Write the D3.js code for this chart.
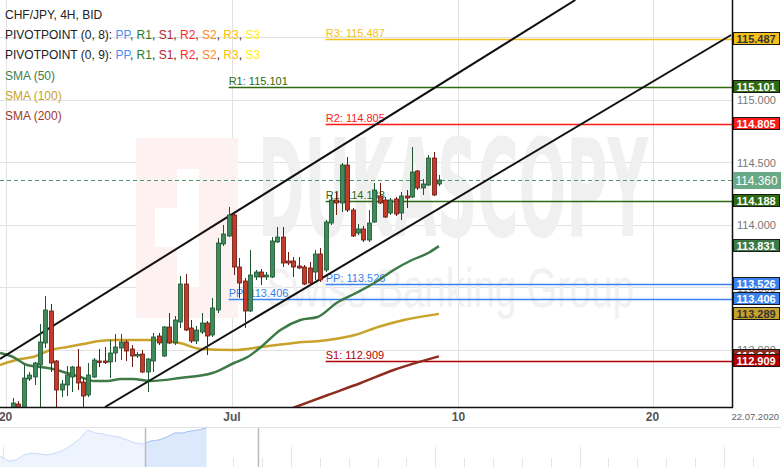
<!DOCTYPE html>
<html>
<head>
<meta charset="utf-8">
<script src="https://cdn.jsdelivr.net/npm/d3@7"></script>
<style>
body { margin: 0; background: #fff; }
svg { display: block; font-family: "Liberation Sans", Arial, sans-serif; }
</style>
</head>
<body>
<div id="chart"></div>
<script>
let width = 781;
let height = 467;
let plot = ({left: 0, top: 0, right: 732, bottom: 407});

// 4H candles (index 0 .. 79)
let opens = [112.52, 112.568, 112.504, 112.768, 112.784, 112.88, 113.056, 113.312, 112.912, 112.68,
  112.72, 112.784, 112.864, 112.744, 112.64, 112.784, 112.912, 112.912, 112.904, 112.976,
  113.016, 113.064, 113.008, 112.952, 112.968, 112.824, 112.912, 113.112, 112.952, 113.184,
  113.056, 113.224, 113.528, 113.176, 113.072, 113.144, 113.216, 113.12, 113.32, 113.848,
  113.912, 114.08, 113.664, 113.552, 113.312, 113.584, 113.624, 113.584, 113.584, 113.864,
  113.904, 113.712, 113.712, 113.672, 113.664, 113.656, 113.624, 113.768, 113.64, 114.016,
  114.2, 114.176, 114.48, 114.12, 113.936, 113.968, 113.88, 114.024, 114.232, 114.2,
  114.096, 114.208, 114.096, 114.232, 114.224, 114.432, 114.296, 114.32, 114.536, 114.328];
let highs = [112.616, 112.592, 112.88, 112.824, 112.904, 113.208, 113.432, 113.368, 112.92, 112.76,
  112.872, 112.872, 113.008, 112.776, 112.896, 112.936, 113.008, 113.024, 113.08, 113.128,
  113.128, 113.08, 113.04, 112.984, 113.0, 112.936, 113.136, 113.136, 113.192, 113.296,
  113.272, 113.592, 113.608, 113.24, 113.192, 113.296, 113.232, 113.416, 113.896, 114.0,
  114.144, 114.088, 113.736, 113.576, 113.8, 113.64, 113.648, 113.624, 113.904, 113.984,
  113.984, 113.784, 113.744, 113.744, 113.68, 113.704, 113.8, 113.816, 114.04, 114.24,
  114.264, 114.496, 114.544, 114.136, 114.008, 113.992, 114.12, 114.336, 114.336, 114.224,
  114.216, 114.224, 114.264, 114.28, 114.624, 114.44, 114.368, 114.56, 114.584, 114.4];
let lows = [112.504, 112.488, 112.48, 112.752, 112.72, 112.52, 113.016, 112.824, 112.504, 112.624,
  112.632, 112.664, 112.68, 112.52, 112.624, 112.776, 112.864, 112.888, 112.776, 112.904,
  112.92, 112.912, 112.864, 112.936, 112.816, 112.664, 112.824, 113.04, 112.944, 113.048,
  113.04, 113.176, 113.152, 113.056, 113.048, 113.128, 112.96, 113.104, 113.296, 113.832,
  113.904, 113.6, 113.416, 113.176, 113.304, 113.56, 113.52, 113.56, 113.576, 113.856,
  113.664, 113.68, 113.584, 113.648, 113.52, 113.52, 113.56, 113.544, 113.624, 114.0,
  114.08, 114.104, 114.104, 113.904, 113.92, 113.864, 113.864, 114.016, 114.168, 114.056,
  114.08, 114.072, 114.04, 114.136, 114.216, 114.28, 114.24, 114.312, 114.232, 114.312];
let closes = [112.576, 112.52, 112.776, 112.8, 112.896, 113.064, 113.32, 112.896, 112.68, 112.728,
  112.8, 112.864, 112.736, 112.632, 112.8, 112.92, 112.9, 112.9, 112.976, 113.024,
  113.064, 112.992, 112.952, 112.964, 112.824, 112.928, 113.104, 113.056, 113.184, 113.056,
  113.24, 113.528, 113.16, 113.072, 113.16, 113.216, 113.112, 113.336, 113.856, 113.928,
  114.08, 113.664, 113.536, 113.312, 113.6, 113.624, 113.584, 113.6, 113.872, 113.904,
  113.696, 113.696, 113.664, 113.656, 113.528, 113.536, 113.768, 113.56, 114.024, 114.2,
  114.176, 114.48, 114.12, 113.912, 113.968, 113.88, 114.016, 114.28, 114.176, 114.064,
  114.2, 114.088, 114.232, 114.216, 114.424, 114.296, 114.328, 114.536, 114.24, 114.36];

// time: trading days counted from 1 Jul, 6 candles per day
let firstCandleDay = -6.77;
let candlesPerDay = 6;
let dayDomain = [-7.1716, 15.456];
let dayTicks = [-7, 0, 7, 13];
let dayTickLabels = ["20", "Jul", "10", "20"];
let lastDateLabel = "22.07.2020";

let priceDomain = [112.544, 115.8];
let priceTicks = [113, 113.5, 114, 114.5, 115, 115.5];

// moving averages (candle index, value)
let sma50Idx = [-2.4, 0, 2.6, 5, 7.4, 10, 12.5, 15, 17.5, 20, 22.3, 25.5, 31, 37, 41, 43.5, 46, 49.6, 53.3, 56.5, 60, 64, 67, 70.6, 74, 77, 79];
let sma50Val = [112.976, 112.944, 112.88, 112.864, 112.848, 112.816, 112.784, 112.752, 112.752, 112.768, 112.768, 112.752, 112.776, 112.816, 112.896, 112.944, 113.024, 113.16, 113.24, 113.264, 113.376, 113.464, 113.536, 113.64, 113.72, 113.776, 113.831];
let sma100Idx = [-2.4, 1.3, 3.7, 7, 10, 13, 16, 19.3, 25.5, 31, 34.8, 41, 46, 52, 58.4, 63.4, 67.7, 72.5, 79];
let sma100Val = [112.88, 112.928, 112.944, 113.0, 113.024, 113.048, 113.072, 113.08, 113.08, 113.056, 113.008, 113.0, 113.024, 113.056, 113.08, 113.12, 113.184, 113.24, 113.289];
let sma200Idx = [44, 52.4, 58.4, 64.5, 70.6, 79];
let sma200Val = [112.41, 112.544, 112.64, 112.736, 112.84, 112.949];

// pivot points
let pivotNames = ["R1", "PP", "R3", "R2", "R1", "PP", "S1"];
let pivotValues = [115.101, 113.406, 115.487, 114.805, 114.188, 113.526, 112.909];
let pivotStartIdx = [40, 40, 58, 58, 58, 58, 58];
let pivotColors = ["#2d6a10", "#3a82f0", "#f5c01a", "#ff1a1a", "#2d6a10", "#3a82f0", "#b00000"];
let pivotTextColors = ["#fff", "#fff", "#333", "#fff", "#fff", "#fff", "#fff"];

// channel (candle index, price)
let channelUpper = [[-2.41, 112.928], [104.3, 115.8]];
let channelLower = [[17.07, 112.544], [133.2, 115.52]];

// navigator
let navValues = [11, 6, 7, 12, 14, 13, 12, 14, 17, 22, 28, 37, 34, 33, 31, 30, 27, 24, 23, 26, 27, 30, 34, 34, 36, 37, 39];
let navStart = -0.08, navStep = 0.275;
let navWindow = [4.94, 8.87];
let navTickCount = 28;

let smaColors = {sma50: "#3d7a46", sma100: "#c9a22a", sma200: "#8e2c1f"};

let svg = d3.select("#chart").append("svg")
    .attr("width", width)
    .attr("height", height);

let xScale = d3.scaleLinear().domain(dayDomain).range([plot.left, plot.right]);
let yScale = d3.scaleLinear().domain(priceDomain).range([plot.bottom, plot.top]);
let idxX = i => xScale(firstCandleDay + i / candlesPerDay);

svg.append("defs").append("clipPath").attr("id", "plotClip")
  .append("rect").attr("x", 0).attr("y", 0).attr("width", plot.right).attr("height", plot.bottom);

// grid
let grid = svg.append("g");
grid.selectAll(".hg").data(priceTicks).enter().append("line")
    .attr("x1", 0).attr("x2", plot.right)
    .attr("y1", d => Math.round(yScale(d)) + 0.5).attr("y2", d => Math.round(yScale(d)) + 0.5)
    .attr("stroke", "#e2e2e2");
grid.selectAll(".vg").data(dayTicks).enter().append("line")
    .attr("x1", d => Math.round(xScale(d)) + 0.5).attr("x2", d => Math.round(xScale(d)) + 0.5)
    .attr("y1", 0).attr("y2", plot.bottom)
    .attr("stroke", "#e2e2e2");

// watermark
let wm = svg.append("g");
wm.append("rect").attr("x", 136).attr("y", 138).attr("width", 102).attr("height", 180).attr("fill", "#fdf2f1");
wm.append("rect").attr("x", 177).attr("y", 169).attr("width", 22).attr("height", 118).attr("fill", "#fff");
wm.append("rect").attr("x", 155).attr("y", 208).attr("width", 23).attr("height", 39).attr("fill", "#fff");
wm.append("text").attr("x", 258).attr("y", 236)
    .attr("font-family", "'DejaVu Sans Condensed', 'DejaVu Sans', sans-serif")
    .attr("font-weight", "bold").attr("font-size", 136)
    .attr("textLength", 390).attr("lengthAdjust", "spacingAndGlyphs")
    .attr("fill", "#f0f0f0").text("DUKASCOPY");
wm.append("text").attr("x", 266).attr("y", 307)
    .attr("font-size", 56).attr("textLength", 368).attr("lengthAdjust", "spacingAndGlyphs")
    .attr("fill", "#f1f1f1").text("Swiss Banking Group");

let g = svg.append("g").attr("clip-path", "url(#plotClip)");

// last price dashed line
g.append("line")
    .attr("x1", 0).attr("x2", plot.right)
    .attr("y1", Math.round(yScale(closes[closes.length - 1])) + 0.5)
    .attr("y2", Math.round(yScale(closes[closes.length - 1])) + 0.5)
    .attr("stroke", "#4f9a6c").attr("stroke-dasharray", "4,3");

// pivot lines
pivotValues.forEach(function(v, k) {
    let yy = Math.round(yScale(v)) + 0.5;
    let x0 = idxX(pivotStartIdx[k]);
    g.append("line").attr("x1", x0).attr("x2", plot.right).attr("y1", yy).attr("y2", yy)
        .attr("stroke", pivotColors[k]).attr("stroke-width", 1.3);
    g.append("text").attr("x", x0).attr("y", yy - 2.5)
        .attr("font-size", 11).attr("fill", pivotColors[k])
        .text(pivotNames[k] + ": " + v.toFixed(3));
});

// moving averages
function smaLine(idx, val, color) {
    let pts = idx.map((d, k) => [idxX(d), yScale(val[k])]);
    g.append("path").attr("d", d3.line().curve(d3.curveMonotoneX)(pts))
        .attr("fill", "none").attr("stroke", color).attr("stroke-width", 2.5);
}
smaLine(sma200Idx, sma200Val, smaColors.sma200);
smaLine(sma100Idx, sma100Val, smaColors.sma100);
smaLine(sma50Idx, sma50Val, smaColors.sma50);

// channel
[channelUpper, channelLower].forEach(function(c) {
    g.append("line")
        .attr("x1", idxX(c[0][0])).attr("y1", yScale(c[0][1]))
        .attr("x2", idxX(c[1][0])).attr("y2", yScale(c[1][1]))
        .attr("stroke", "#111").attr("stroke-width", 2);
});

// candles
let candles = g.selectAll(".candle").data(opens.map((o, i) => ({i: i, o: o, h: highs[i], l: lows[i], c: closes[i]})))
    .enter().append("g");
candles.append("line")
    .attr("x1", d => Math.round(idxX(d.i)) + 0.5).attr("x2", d => Math.round(idxX(d.i)) + 0.5)
    .attr("y1", d => yScale(d.h)).attr("y2", d => yScale(d.l))
    .attr("stroke", d => d.c >= d.o ? "#1d5530" : "#6a1a10");
candles.append("rect")
    .attr("x", d => Math.round(idxX(d.i)) - 1.5)
    .attr("width", 4)
    .attr("y", d => yScale(Math.max(d.o, d.c)))
    .attr("height", d => Math.max(1, Math.abs(yScale(d.o) - yScale(d.c))))
    .attr("fill", d => d.c >= d.o ? "#3e8a5a" : "#c33b2b")
    .attr("stroke", d => d.c >= d.o ? "#1d5530" : "#6a1a10")
    .attr("stroke-width", 0.8);

// borders
svg.append("line").attr("x1", plot.right + 0.5).attr("x2", plot.right + 0.5).attr("y1", 0).attr("y2", plot.bottom + 1)
    .attr("stroke", "#111").attr("stroke-width", 1.5);
svg.append("line").attr("x1", 0).attr("x2", plot.right + 1).attr("y1", plot.bottom + 0.5).attr("y2", plot.bottom + 0.5)
    .attr("stroke", "#111").attr("stroke-width", 1.5);

// right axis tick labels
svg.selectAll(".ytick").data(priceTicks).enter().append("text")
    .attr("x", 737).attr("y", d => yScale(d) + 4)
    .attr("font-size", 11).attr("fill", "#777")
    .text(d => d.toFixed(3));

// bottom axis labels
svg.selectAll(".xtick").data(dayTicks).enter().append("text")
    .attr("x", d => xScale(d)).attr("y", 421)
    .attr("text-anchor", "middle").attr("font-size", 12).attr("font-weight", "bold").attr("fill", "#555")
    .text((d, k) => dayTickLabels[k]);
svg.append("text").attr("x", 779).attr("y", 420).attr("text-anchor", "end")
    .attr("font-size", 9.5).attr("fill", "#666").text(lastDateLabel);

// value labels on right axis
function priceLabel(v, fill, textFill) {
    let yy = Math.round(yScale(v));
    svg.append("rect").attr("x", 733.5).attr("y", yy - 6.5).attr("width", 46).attr("height", 12)
        .attr("fill", fill).attr("stroke", "#1a1a1a").attr("stroke-width", 1);
    svg.append("text").attr("x", 736.5).attr("y", yy + 4)
        .attr("font-size", 11).attr("font-weight", "bold").attr("fill", textFill)
        .text(v.toFixed(3));
}
priceLabel(sma200Val[sma200Val.length - 1], smaColors.sma200, "#fff");
priceLabel(sma100Val[sma100Val.length - 1], smaColors.sma100, "#333");
priceLabel(sma50Val[sma50Val.length - 1], smaColors.sma50, "#fff");
pivotValues.forEach((v, k) => priceLabel(v, pivotColors[k], pivotTextColors[k]));
let lastY = Math.round(yScale(closes[closes.length - 1]));
svg.append("rect").attr("x", 733).attr("y", lastY - 8).attr("width", 48).attr("height", 17).attr("fill", "#6aa985");
svg.append("text").attr("x", 735.5).attr("y", lastY + 5)
    .attr("font-size", 13).attr("textLength", 42).attr("lengthAdjust", "spacingAndGlyphs").attr("fill", "#fff")
    .text(closes[closes.length - 1].toFixed(3));

// legend
let legend = [
    [["CHF/JPY, 4H, BID", "#222"]],
    [["PIVOTPOINT (0, 8): ", "#222"], ["PP", "#4a8ef0"], [", ", "#222"], ["R1", "#2e7a1e"], [", ", "#222"], ["S1", "#b3262a"], [", ", "#222"], ["R2", "#ff2a2a"], [", ", "#222"], ["S2", "#ff8a1f"], [", ", "#222"], ["R3", "#ffc000"], [", ", "#222"], ["S3", "#ffee10"]],
    [["PIVOTPOINT (0, 9): ", "#222"], ["PP", "#4a8ef0"], [", ", "#222"], ["R1", "#2e7a1e"], [", ", "#222"], ["S1", "#b3262a"], [", ", "#222"], ["R2", "#ff2a2a"], [", ", "#222"], ["S2", "#ff8a1f"], [", ", "#222"], ["R3", "#ffc000"], [", ", "#222"], ["S3", "#ffee10"]],
    [["SMA (50)", "#3e7d4a"]],
    [["SMA (100)", "#c9a227"]],
    [["SMA (200)", "#9b3a2b"]]
];
let legendY = [19, 39, 59, 80, 100, 120];
legend.forEach(function(row, k) {
    let t = svg.append("text").attr("x", 5).attr("y", legendY[k]).attr("font-size", 12);
    row.forEach(p => t.append("tspan").attr("fill", p[1]).text(p[0]));
});

// navigator
let navX = d3.scaleLinear().domain([0, navTickCount - 1]).range([2.5, 2.5 + 28.85 * (navTickCount - 1)]);
let navY = d3.scaleLinear().domain([0, 40]).range([467, 427]);
svg.append("line").attr("x1", 0).attr("x2", width).attr("y1", 427.5).attr("y2", 427.5).attr("stroke", "#e2e2e2");
svg.selectAll(".navtick").data(d3.range(navTickCount)).enter().append("line")
    .attr("x1", d => Math.round(navX(d)) + 0.5).attr("x2", d => Math.round(navX(d)) + 0.5)
    .attr("y1", d => d % 5 === 0 ? 447 : 458).attr("y2", 467)
    .attr("stroke", "#e4e4e4");
let navPts = navValues.map((v, k) => [navX(navStart + k * navStep), navY(v)]);
let navArea = d3.area().x(d => d[0]).y0(467).y1(d => d[1]);
let navLine = d3.line();
svg.append("path").attr("d", navArea(navPts)).attr("fill", "#eef4fd");
svg.append("path").attr("d", navLine(navPts)).attr("fill", "none").attr("stroke", "#c9dbf7");
svg.append("defs").append("clipPath").attr("id", "navClip")
  .append("rect").attr("x", navX(navWindow[0])).attr("y", 427).attr("width", navX(navWindow[1]) - navX(navWindow[0])).attr("height", 40);
svg.append("path").attr("d", navArea(navPts)).attr("fill", "#dce8fb").attr("clip-path", "url(#navClip)");
svg.append("path").attr("d", navLine(navPts)).attr("fill", "none").attr("stroke", "#a9c5f3").attr("clip-path", "url(#navClip)");
navWindow.forEach(w => svg.append("line")
    .attr("x1", Math.round(navX(w)) + 0.5).attr("x2", Math.round(navX(w)) + 0.5)
    .attr("y1", 428).attr("y2", 467).attr("stroke", "#bbb").attr("stroke-width", 1.5));
</script>
</body>
</html>
